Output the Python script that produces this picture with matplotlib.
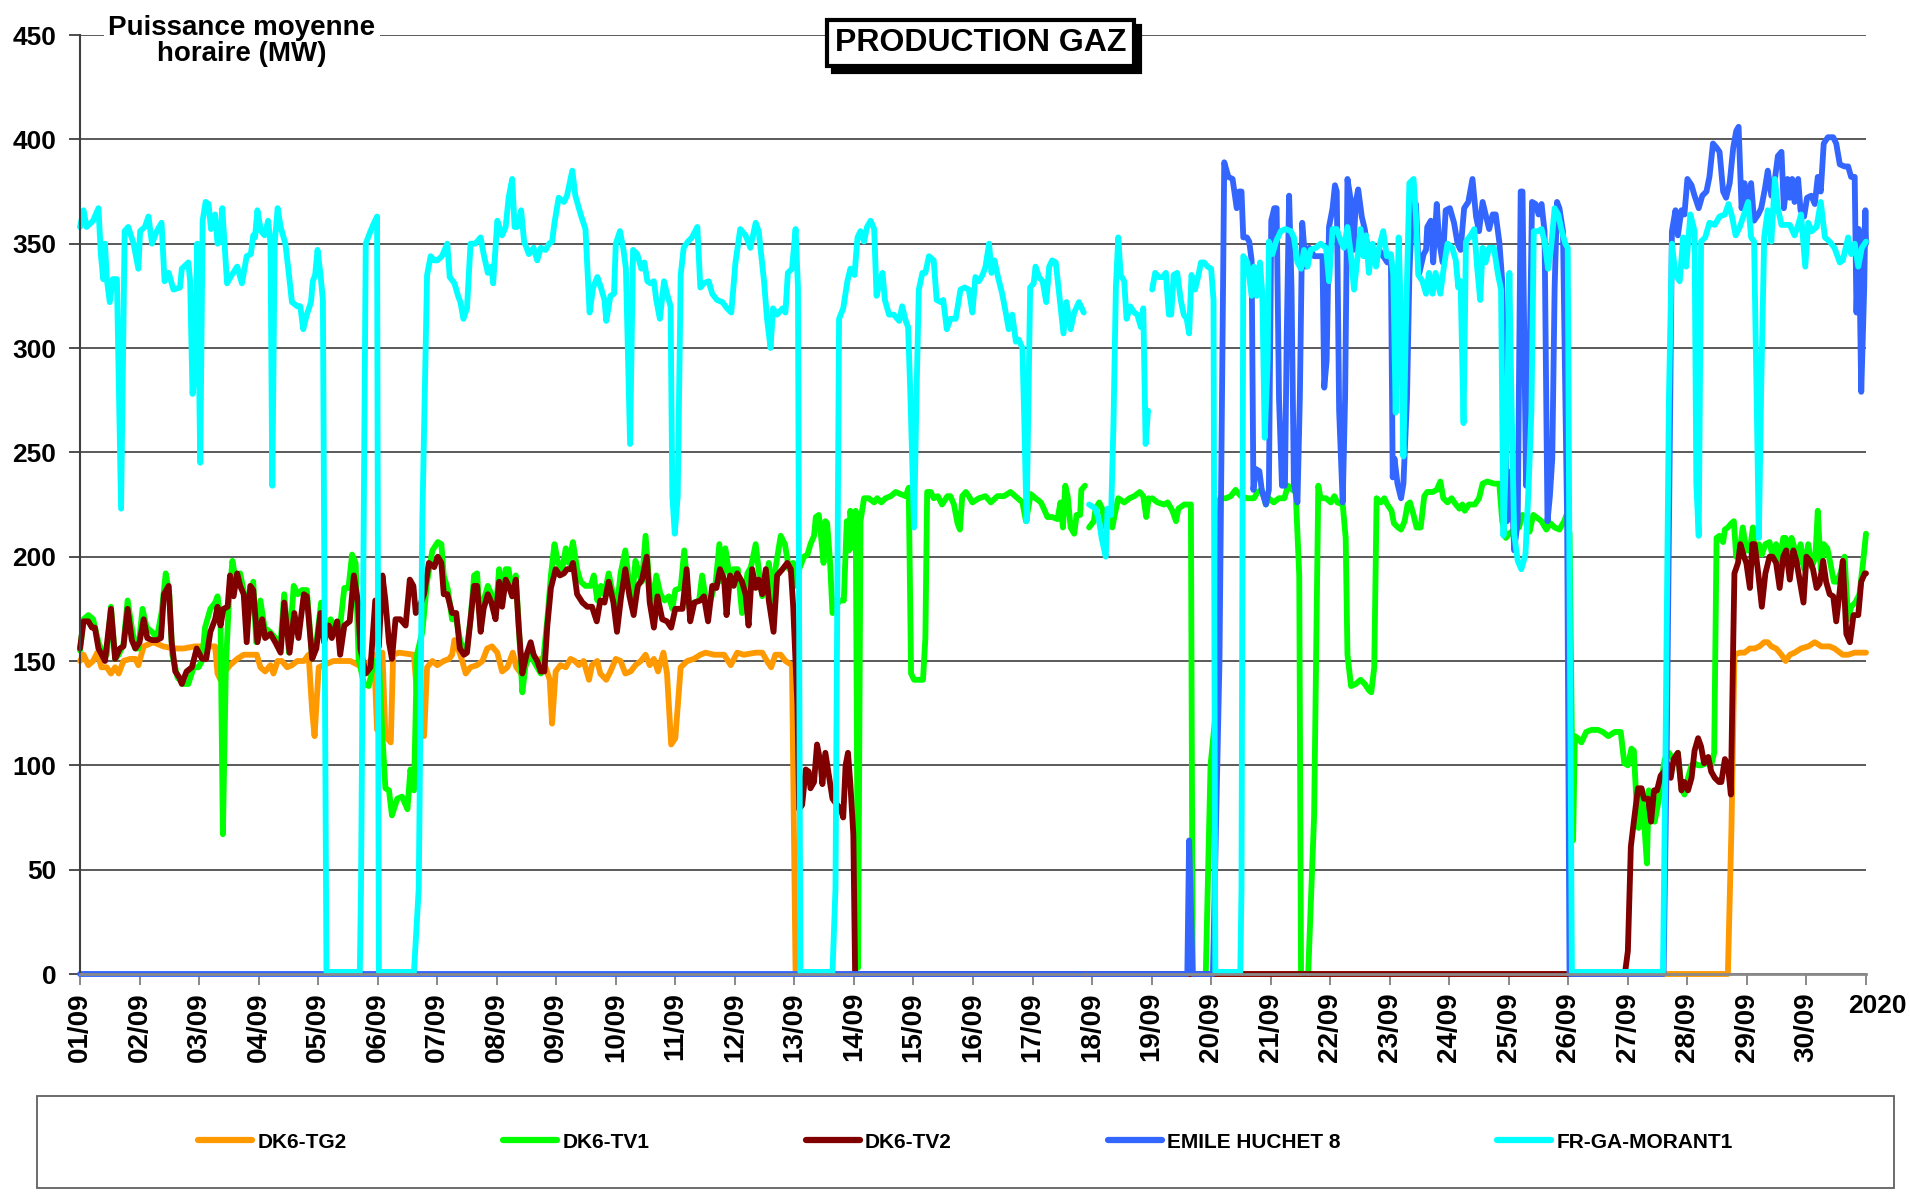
import numpy as np
import matplotlib
matplotlib.use("Agg")
import matplotlib.pyplot as plt
from matplotlib.patches import Rectangle

plt.rcParams['font.family'] = ['Liberation Sans', 'DejaVu Sans']
plt.rcParams['font.weight'] = 'bold'

# (day, MW); day 0 = 01/09 00:00, day 30 = 01/10 00:00
# None = missing data (gap in every curve)
tg2 = [
    (0.00, 150), (0.06, 153), (0.14, 148), (0.22, 150), (0.29, 154), (0.36, 147), (0.45, 147),
    (0.52, 144), (0.59, 147), (0.65, 144), (0.73, 150), (0.84, 151), (0.93, 151), (0.98, 148),
    (1.07, 157), (1.23, 159), (1.40, 157), (1.57, 156), (1.74, 156), (1.93, 157), (2.27, 157),
    (2.31, 144), (2.36, 141), (2.44, 145), (2.52, 148), (2.64, 151), (2.75, 153), (2.97, 153),
    (3.03, 147), (3.11, 145), (3.20, 148), (3.25, 144), (3.32, 150), (3.39, 150), (3.48, 147),
    (3.56, 148), (3.65, 150), (3.76, 150), (3.84, 153), (3.90, 126), (3.94, 114), (4.01, 147),
    (4.09, 148), (4.26, 150), (4.54, 150), (4.68, 148), (4.82, 148), (4.94, 153), (4.99, 117),
    (5.08, 154), (5.13, 114), (5.22, 111), (5.26, 153), (5.36, 154), (5.61, 153), (5.69, 123),
    (5.78, 114), (5.83, 147), (5.92, 150), (6.00, 148), (6.11, 150), (6.20, 151), (6.25, 153),
    (6.29, 160), (6.35, 156), (6.42, 150), (6.48, 144), (6.56, 147), (6.67, 148), (6.76, 150),
    (6.84, 156), (6.92, 157), (7.01, 154), (7.09, 145), (7.18, 147), (7.27, 154), (7.33, 147),
    (7.41, 144), (7.48, 148), (7.57, 154), (7.65, 150), (7.74, 151), (7.82, 147), (7.89, 141),
    (7.93, 120), (7.99, 145), (8.07, 148), (8.16, 147), (8.24, 151), (8.31, 150), (8.38, 148),
    (8.46, 150), (8.55, 141), (8.60, 148), (8.69, 150), (8.74, 144), (8.84, 141), (8.91, 145),
    (9.00, 151), (9.08, 150), (9.16, 144), (9.25, 145), (9.33, 148), (9.42, 150), (9.50, 153),
    (9.57, 148), (9.64, 151), (9.71, 145), (9.80, 154), (9.86, 144), (9.93, 110), (10.00, 113),
    (10.09, 147), (10.20, 150), (10.31, 151), (10.42, 153), (10.51, 154), (10.65, 153),
    (10.82, 153), (10.93, 148), (11.04, 154), (11.15, 153), (11.35, 154), (11.46, 154),
    (11.54, 150), (11.61, 147), (11.68, 153), (11.77, 153), (11.85, 150), (11.96, 148),
    (12.02, 0), (16.88, 0), (16.90, None), (16.94, 0), (17.96, 0), (17.98, None), (18.00, 0),
    (27.68, 0), (27.74, 70), (27.79, 153), (27.88, 154), (27.96, 154), (28.05, 156), (28.13, 156),
    (28.21, 157), (28.29, 159), (28.35, 159), (28.41, 157), (28.49, 156), (28.58, 153),
    (28.65, 150), (28.72, 153), (28.80, 154), (28.91, 156), (29.03, 157), (29.14, 159),
    (29.25, 157), (29.39, 157), (29.47, 156), (29.61, 153), (29.70, 153), (29.81, 154), (30.00, 154),
]

tv1 = [
    (0.00, 155), (0.06, 170), (0.14, 172), (0.22, 170), (0.31, 159), (0.39, 153), (0.45, 153),
    (0.52, 176), (0.59, 151), (0.65, 153), (0.73, 158), (0.80, 179), (0.87, 166), (0.93, 156),
    (0.98, 156), (1.05, 175), (1.12, 166), (1.21, 164), (1.29, 161), (1.37, 173), (1.44, 192),
    (1.50, 182), (1.55, 153), (1.64, 142), (1.74, 139), (1.82, 139), (1.91, 147), (1.99, 147),
    (2.05, 150), (2.10, 166), (2.19, 175), (2.27, 178), (2.31, 181), (2.36, 170), (2.40, 67),
    (2.45, 147), (2.50, 178), (2.56, 198), (2.62, 188), (2.69, 192), (2.76, 182), (2.83, 172),
    (2.91, 188), (2.96, 159), (3.03, 179), (3.10, 166), (3.19, 164), (3.28, 161), (3.37, 159),
    (3.43, 182), (3.51, 154), (3.59, 186), (3.66, 182), (3.73, 184), (3.81, 184), (3.90, 151),
    (3.98, 161), (4.05, 178), (4.12, 161), (4.21, 170), (4.29, 166), (4.37, 167), (4.44, 185),
    (4.51, 185), (4.57, 201), (4.63, 197), (4.68, 151), (4.77, 139), (4.85, 138), (4.94, 150),
    (5.02, 150), (5.08, 114), (5.13, 89), (5.19, 88), (5.24, 76), (5.33, 84), (5.41, 85),
    (5.50, 79), (5.55, 98), (5.61, 88), (5.66, 153), (5.75, 164), (5.83, 188), (5.92, 203),
    (6.01, 207), (6.07, 206), (6.11, 191), (6.18, 184), (6.25, 170), (6.32, 170), (6.39, 159),
    (6.45, 156), (6.50, 156), (6.56, 170), (6.62, 191), (6.67, 192), (6.73, 166), (6.78, 179),
    (6.85, 186), (6.91, 182), (6.98, 172), (7.04, 194), (7.09, 178), (7.15, 194), (7.20, 194),
    (7.26, 181), (7.32, 191), (7.37, 167), (7.43, 135), (7.48, 147), (7.54, 153), (7.62, 150),
    (7.68, 147), (7.74, 144), (7.79, 153), (7.85, 170), (7.91, 191), (7.97, 206), (8.03, 197),
    (8.10, 194), (8.16, 204), (8.21, 197), (8.28, 207), (8.35, 194), (8.41, 188), (8.49, 186),
    (8.58, 186), (8.63, 191), (8.69, 179), (8.75, 186), (8.81, 182), (8.88, 192), (8.96, 181),
    (9.01, 173), (9.08, 192), (9.16, 203), (9.22, 188), (9.28, 181), (9.33, 198), (9.39, 192),
    (9.44, 188), (9.50, 210), (9.56, 188), (9.61, 175), (9.68, 191), (9.75, 182), (9.82, 179),
    (9.89, 181), (9.95, 175), (10.00, 184), (10.09, 185), (10.15, 203), (10.23, 176),
    (10.31, 178), (10.40, 179), (10.45, 191), (10.52, 178), (10.59, 179), (10.68, 188),
    (10.74, 206), (10.79, 188), (10.84, 204), (10.92, 189), (10.98, 194), (11.05, 194),
    (11.12, 173), (11.21, 192), (11.27, 195), (11.35, 206), (11.40, 194), (11.46, 181),
    (11.52, 188), (11.57, 197), (11.63, 179), (11.68, 194), (11.77, 210), (11.84, 206),
    (11.91, 194), (11.98, 197), (12.02, 186), (12.08, 194), (12.16, 200), (12.22, 201),
    (12.27, 206), (12.33, 210), (12.36, 219), (12.41, 220), (12.45, 209), (12.49, 197),
    (12.52, 217), (12.55, 216), (12.60, 197), (12.64, 173), (12.69, 175), (12.75, 179),
    (12.83, 179), (12.88, 217), (12.92, 203), (12.94, 222), (13.00, 204), (13.03, 222),
    (13.07, 3), (13.11, 217), (13.17, 228), (13.25, 228), (13.34, 226), (13.39, 228),
    (13.46, 226), (13.53, 228), (13.62, 229), (13.70, 231), (13.78, 230), (13.87, 229),
    (13.92, 233), (13.96, 144), (14.01, 141), (14.09, 141), (14.16, 141), (14.20, 161),
    (14.23, 231), (14.29, 231), (14.34, 228), (14.41, 229), (14.48, 225), (14.57, 229),
    (14.62, 229), (14.68, 225), (14.74, 216), (14.78, 213), (14.82, 229), (14.88, 231),
    (14.93, 229), (14.99, 226), (15.10, 228), (15.21, 229), (15.30, 226), (15.41, 229),
    (15.52, 229), (15.63, 231), (15.75, 228), (15.83, 226), (15.89, 217), (15.97, 230),
    (16.05, 228), (16.14, 226), (16.19, 223), (16.25, 219), (16.33, 219), (16.42, 218),
    (16.47, 226), (16.51, 214), (16.55, 234), (16.59, 229), (16.64, 214), (16.70, 211),
    (16.74, 220), (16.80, 220), (16.82, 232), (16.88, 234), (16.90, None), (16.95, 214),
    (17.03, 217), (17.06, 223), (17.12, 226), (17.17, 223), (17.23, 214), (17.29, 223),
    (17.34, 214), (17.38, 220), (17.44, 228), (17.54, 226), (17.63, 228), (17.71, 229),
    (17.80, 231), (17.86, 229), (17.91, 219), (17.95, 228), (17.98, None), (18.01, 228),
    (18.10, 226), (18.21, 225), (18.27, 226), (18.35, 222), (18.41, 217), (18.45, 223),
    (18.55, 225), (18.66, 225), (18.69, 0), (18.91, 0), (18.99, 100), (19.11, 135),
    (19.15, 228), (19.25, 228), (19.33, 229), (19.41, 232), (19.50, 229), (19.61, 228),
    (19.72, 228), (19.78, 231), (19.85, 232), (19.92, 225), (19.97, 228), (20.05, 226),
    (20.14, 228), (20.23, 228), (20.29, 234), (20.37, 232), (20.42, 231), (20.48, 191),
    (20.51, 0), (20.63, 0), (20.73, 76), (20.80, 234), (20.84, 228), (20.93, 228),
    (21.01, 226), (21.07, 229), (21.12, 226), (21.21, 225), (21.26, 209), (21.29, 153),
    (21.35, 138), (21.43, 139), (21.51, 141), (21.58, 139), (21.65, 136), (21.69, 135),
    (21.74, 147), (21.78, 228), (21.85, 226), (21.91, 228), (21.96, 225), (22.03, 222),
    (22.07, 216), (22.14, 214), (22.19, 213), (22.25, 217), (22.30, 225), (22.34, 226),
    (22.40, 220), (22.45, 214), (22.52, 214), (22.58, 229), (22.63, 231), (22.72, 231),
    (22.79, 232), (22.85, 236), (22.90, 228), (22.97, 226), (23.04, 228), (23.11, 225),
    (23.17, 223), (23.22, 225), (23.26, 222), (23.33, 225), (23.43, 225), (23.50, 228),
    (23.56, 235), (23.64, 236), (23.75, 235), (23.84, 235), (23.89, 217), (23.95, 209),
    (24.01, 211), (24.09, 213), (24.17, 214), (24.23, 220), (24.30, 218), (24.35, 212),
    (24.41, 220), (24.46, 219), (24.55, 217), (24.63, 213), (24.70, 216), (24.77, 214),
    (24.85, 213), (24.93, 217), (24.97, 220), (25.02, 211), (25.08, 64), (25.11, 114),
    (25.16, 113), (25.22, 111), (25.30, 116), (25.39, 117), (25.50, 117), (25.58, 116),
    (25.67, 114), (25.78, 116), (25.88, 116), (25.94, 101), (26.00, 100), (26.06, 108),
    (26.10, 107), (26.14, 85), (26.18, 70), (26.23, 85), (26.28, 70), (26.32, 53), (26.35, 88),
    (26.39, 76), (26.45, 73), (26.51, 82), (26.56, 92), (26.62, 103), (26.69, 106),
    (26.76, 103), (26.84, 106), (26.90, 89), (26.95, 86), (27.01, 94), (27.07, 100),
    (27.12, 101), (27.18, 100), (27.23, 100), (27.32, 101), (27.40, 100), (27.45, 106),
    (27.49, 209), (27.54, 210), (27.60, 207), (27.63, 213), (27.68, 214), (27.74, 216),
    (27.78, 217), (27.82, 200), (27.88, 203), (27.93, 214), (27.99, 203), (28.05, 203),
    (28.10, 214), (28.14, 197), (28.20, 206), (28.25, 201), (28.31, 206), (28.38, 207),
    (28.43, 200), (28.49, 206), (28.55, 197), (28.61, 209), (28.65, 209), (28.69, 197),
    (28.75, 209), (28.80, 204), (28.86, 197), (28.90, 206), (28.96, 194), (29.03, 206),
    (29.09, 195), (29.15, 200), (29.19, 222), (29.24, 194), (29.29, 206), (29.35, 204),
    (29.40, 197), (29.46, 188), (29.51, 188), (29.57, 192), (29.64, 200), (29.70, 170),
    (29.75, 176), (29.82, 178), (29.89, 182), (29.95, 197), (30.00, 211),
]

tv2 = [
    (0.00, 156), (0.06, 169), (0.14, 169), (0.20, 166), (0.25, 166), (0.31, 156), (0.42, 150),
    (0.52, 175), (0.59, 151), (0.67, 156), (0.73, 157), (0.80, 175), (0.87, 160), (0.93, 156),
    (1.00, 159), (1.07, 170), (1.13, 161), (1.21, 160), (1.29, 160), (1.36, 161), (1.41, 182),
    (1.49, 186), (1.54, 159), (1.60, 145), (1.67, 142), (1.71, 139), (1.79, 145), (1.88, 147),
    (1.96, 156), (2.05, 151), (2.12, 151), (2.19, 164), (2.27, 170), (2.31, 176), (2.36, 167),
    (2.41, 175), (2.48, 176), (2.52, 191), (2.58, 181), (2.64, 192), (2.69, 186), (2.75, 182),
    (2.80, 159), (2.86, 186), (2.91, 184), (2.98, 159), (3.06, 170), (3.11, 161), (3.20, 163),
    (3.28, 159), (3.37, 154), (3.43, 178), (3.52, 154), (3.60, 173), (3.67, 161), (3.76, 182),
    (3.81, 181), (3.90, 151), (3.97, 156), (4.04, 173), (4.10, 159), (4.18, 167), (4.23, 161),
    (4.32, 169), (4.37, 153), (4.44, 167), (4.53, 169), (4.60, 191), (4.67, 178), (4.71, 156),
    (4.80, 144), (4.88, 147), (4.96, 179), (5.02, 157), (5.08, 191), (5.13, 179), (5.19, 159),
    (5.24, 151), (5.30, 170), (5.38, 170), (5.47, 167), (5.54, 189), (5.60, 186), (5.64, 173),
    (5.69, 175), (5.78, 182), (5.86, 197), (5.95, 195), (6.01, 200), (6.07, 197), (6.11, 182),
    (6.17, 182), (6.25, 173), (6.32, 173), (6.38, 156), (6.45, 153), (6.50, 154), (6.56, 170),
    (6.62, 186), (6.67, 186), (6.73, 164), (6.78, 175), (6.85, 182), (6.91, 178), (6.98, 170),
    (7.04, 188), (7.09, 176), (7.15, 189), (7.20, 186), (7.26, 181), (7.32, 189), (7.37, 166),
    (7.43, 144), (7.50, 153), (7.57, 159), (7.62, 153), (7.68, 150), (7.74, 145), (7.80, 145),
    (7.85, 167), (7.91, 185), (7.99, 194), (8.06, 191), (8.13, 192), (8.18, 194), (8.24, 194),
    (8.28, 197), (8.35, 182), (8.44, 178), (8.52, 176), (8.60, 176), (8.68, 169), (8.74, 179),
    (8.81, 178), (8.88, 188), (8.96, 178), (9.02, 164), (9.09, 181), (9.16, 194), (9.23, 181),
    (9.30, 172), (9.37, 186), (9.44, 189), (9.52, 200), (9.57, 178), (9.64, 166), (9.70, 181),
    (9.78, 170), (9.86, 169), (9.93, 166), (10.00, 175), (10.12, 175), (10.19, 194),
    (10.25, 169), (10.32, 178), (10.42, 179), (10.48, 181), (10.55, 169), (10.62, 186),
    (10.69, 185), (10.75, 194), (10.82, 189), (10.86, 172), (10.92, 191), (10.98, 186),
    (11.04, 192), (11.12, 188), (11.18, 182), (11.23, 167), (11.29, 194), (11.35, 185),
    (11.40, 189), (11.46, 182), (11.52, 194), (11.57, 179), (11.65, 164), (11.71, 191),
    (11.80, 194), (11.88, 197), (11.94, 194), (11.98, 176), (12.05, 129), (12.08, 79),
    (12.13, 81), (12.19, 98), (12.24, 97), (12.27, 89), (12.33, 92), (12.38, 110), (12.44, 101),
    (12.47, 91), (12.52, 106), (12.58, 95), (12.64, 84), (12.69, 82), (12.78, 79), (12.82, 75),
    (12.86, 100), (12.90, 106), (12.94, 91), (12.99, 67), (13.02, 0), (16.88, 0), (16.90, None),
    (16.94, 0), (17.96, 0), (17.98, None), (18.00, 0), (25.95, 0), (26.00, 11), (26.05, 61),
    (26.10, 73), (26.17, 89), (26.23, 89), (26.27, 84), (26.34, 84), (26.39, 73), (26.44, 88),
    (26.49, 88), (26.55, 95), (26.61, 97), (26.66, 101), (26.72, 94), (26.77, 103),
    (26.84, 106), (26.90, 88), (26.95, 92), (27.01, 88), (27.07, 94), (27.12, 107),
    (27.18, 113), (27.23, 109), (27.28, 101), (27.35, 104), (27.40, 97), (27.46, 94),
    (27.53, 92), (27.57, 92), (27.63, 103), (27.68, 100), (27.73, 86), (27.77, 159),
    (27.79, 192), (27.85, 197), (27.89, 206), (27.95, 200), (27.99, 197), (28.05, 185),
    (28.09, 206), (28.13, 206), (28.19, 192), (28.25, 176), (28.31, 192), (28.38, 200),
    (28.43, 200), (28.49, 197), (28.55, 185), (28.61, 200), (28.66, 203), (28.72, 189),
    (28.78, 203), (28.83, 198), (28.89, 188), (28.95, 178), (29.00, 200), (29.06, 198),
    (29.11, 194), (29.17, 185), (29.22, 187), (29.28, 198), (29.33, 188), (29.39, 182),
    (29.45, 181), (29.50, 169), (29.56, 184), (29.61, 198), (29.67, 163), (29.73, 159),
    (29.79, 172), (29.87, 172), (29.92, 188), (29.98, 192), (30.00, 192),
]

emile_huchet_8 = [
    (0.00, 0), (16.88, 0), (16.90, None), (16.94, 0), (17.96, 0), (17.98, None), (18.00, 0),
    (18.60, 0), (18.63, 64), (18.69, 0), (19.03, 0), (19.14, 150), (19.22, 389), (19.29, 382),
    (19.36, 381), (19.43, 367), (19.47, 375), (19.51, 375), (19.54, 353), (19.60, 353),
    (19.64, 351), (19.68, 342), (19.71, 232), (19.75, 242), (19.81, 241), (19.85, 232),
    (19.92, 225), (19.97, 232), (20.01, 361), (20.06, 367), (20.10, 367), (20.14, 276),
    (20.19, 234), (20.24, 234), (20.27, 306), (20.31, 373), (20.35, 329), (20.39, 235),
    (20.45, 226), (20.49, 276), (20.53, 360), (20.59, 339), (20.65, 348), (20.73, 344),
    (20.81, 344), (20.87, 344), (20.90, 281), (20.94, 294), (20.98, 358), (21.04, 367),
    (21.08, 378), (21.11, 375), (21.15, 270), (21.21, 226), (21.25, 276), (21.29, 381),
    (21.35, 370), (21.39, 347), (21.43, 370), (21.47, 376), (21.53, 363), (21.58, 357),
    (21.65, 344), (21.71, 342), (21.77, 341), (21.82, 347), (21.89, 344), (21.96, 341),
    (22.02, 341), (22.05, 238), (22.08, 247), (22.13, 235), (22.19, 228), (22.23, 235),
    (22.29, 276), (22.33, 335), (22.38, 370), (22.44, 369), (22.49, 335), (22.57, 345),
    (22.61, 347), (22.63, 358), (22.69, 361), (22.73, 341), (22.79, 369), (22.83, 351),
    (22.89, 341), (22.94, 366), (23.01, 367), (23.08, 360), (23.14, 350), (23.19, 347),
    (23.25, 367), (23.32, 370), (23.39, 381), (23.45, 363), (23.50, 356), (23.56, 370),
    (23.61, 364), (23.67, 357), (23.73, 364), (23.78, 364), (23.84, 351), (23.89, 332),
    (23.93, 276), (23.97, 217), (24.01, 229), (24.04, 241), (24.09, 203), (24.15, 217),
    (24.20, 375), (24.23, 375), (24.29, 234), (24.34, 276), (24.39, 370), (24.45, 369),
    (24.50, 364), (24.55, 369), (24.60, 356), (24.65, 217), (24.69, 229), (24.73, 247),
    (24.77, 329), (24.81, 370), (24.85, 367), (24.91, 356), (24.95, 276), (24.98, 217),
    (25.02, 0), (26.60, 0), (26.65, 100), (26.74, 356), (26.80, 366), (26.84, 354),
    (26.90, 366), (26.95, 364), (27.00, 381), (27.07, 378), (27.12, 373), (27.19, 367),
    (27.25, 373), (27.32, 375), (27.37, 382), (27.43, 398), (27.49, 396), (27.54, 394),
    (27.60, 375), (27.65, 372), (27.71, 379), (27.77, 396), (27.82, 404), (27.86, 406),
    (27.91, 367), (27.96, 379), (28.02, 369), (28.07, 379), (28.12, 361), (28.19, 364),
    (28.24, 367), (28.30, 376), (28.35, 385), (28.41, 373), (28.47, 381), (28.52, 392),
    (28.58, 394), (28.62, 367), (28.68, 381), (28.72, 372), (28.76, 381), (28.80, 370),
    (28.86, 381), (28.90, 366), (28.96, 363), (29.01, 372), (29.08, 373), (29.14, 369),
    (29.19, 382), (29.24, 375), (29.29, 398), (29.36, 401), (29.45, 401), (29.50, 398),
    (29.56, 388), (29.64, 387), (29.70, 387), (29.75, 382), (29.81, 382), (29.84, 317),
    (29.88, 357), (29.92, 279), (29.97, 329), (29.99, 366), (30.00, 350),
]

fr_ga_morant1 = [
    (0.00, 358), (0.06, 366), (0.11, 358), (0.22, 361), (0.31, 367), (0.35, 345), (0.39, 333),
    (0.42, 350), (0.45, 333), (0.50, 322), (0.55, 333), (0.62, 333), (0.69, 223), (0.75, 356),
    (0.81, 358), (0.90, 350), (0.98, 338), (1.01, 356), (1.09, 358), (1.15, 363), (1.21, 350),
    (1.29, 356), (1.37, 360), (1.42, 332), (1.49, 336), (1.57, 328), (1.68, 329), (1.71, 338),
    (1.82, 341), (1.85, 332), (1.89, 278), (1.93, 288), (1.97, 350), (2.02, 245), (2.06, 361),
    (2.11, 370), (2.16, 369), (2.20, 357), (2.27, 364), (2.31, 350), (2.36, 351), (2.39, 367),
    (2.47, 331), (2.55, 335), (2.64, 339), (2.72, 331), (2.80, 344), (2.87, 345), (2.91, 354),
    (2.94, 353), (2.98, 366), (3.04, 356), (3.10, 354), (3.16, 361), (3.20, 350), (3.23, 234),
    (3.27, 350), (3.32, 367), (3.37, 358), (3.45, 350), (3.51, 335), (3.56, 322), (3.65, 320),
    (3.70, 320), (3.75, 309), (3.81, 316), (3.88, 322), (3.91, 332), (3.95, 335), (3.99, 347),
    (4.04, 335), (4.08, 323), (4.14, 1), (4.70, 1), (4.72, 41), (4.80, 350), (4.88, 356),
    (4.94, 360), (4.99, 363), (5.02, 1), (5.61, 1), (5.69, 41), (5.75, 217), (5.83, 335),
    (5.89, 344), (5.95, 342), (6.00, 342), (6.08, 344), (6.17, 350), (6.21, 334), (6.29, 331),
    (6.35, 325), (6.39, 322), (6.44, 314), (6.50, 319), (6.56, 350), (6.64, 350), (6.73, 353),
    (6.78, 345), (6.85, 336), (6.91, 339), (6.94, 331), (7.01, 361), (7.09, 354), (7.15, 358),
    (7.20, 372), (7.26, 381), (7.30, 358), (7.34, 358), (7.41, 366), (7.46, 351), (7.54, 345),
    (7.62, 348), (7.68, 342), (7.74, 348), (7.82, 347), (7.88, 350), (7.93, 351), (7.97, 360),
    (8.04, 372), (8.13, 370), (8.18, 373), (8.27, 385), (8.32, 373), (8.41, 364), (8.49, 357),
    (8.56, 317), (8.62, 329), (8.69, 334), (8.75, 329), (8.81, 323), (8.84, 313), (8.91, 325),
    (8.97, 326), (9.00, 350), (9.07, 356), (9.13, 347), (9.17, 338), (9.24, 254), (9.29, 347),
    (9.36, 345), (9.43, 338), (9.48, 341), (9.53, 332), (9.58, 331), (9.64, 332), (9.68, 323),
    (9.74, 314), (9.81, 332), (9.86, 326), (9.92, 320), (9.95, 229), (9.99, 211), (10.04, 229),
    (10.09, 335), (10.14, 348), (10.21, 351), (10.28, 353), (10.37, 358), (10.42, 329),
    (10.48, 331), (10.56, 332), (10.62, 326), (10.70, 323), (10.79, 322), (10.87, 319),
    (10.94, 317), (11.01, 341), (11.09, 357), (11.18, 354), (11.26, 348), (11.35, 360),
    (11.40, 356), (11.49, 332), (11.54, 314), (11.60, 300), (11.64, 319), (11.71, 316),
    (11.80, 319), (11.85, 317), (11.89, 336), (11.96, 338), (12.02, 357), (12.06, 329),
    (12.10, 1), (12.64, 1), (12.69, 41), (12.75, 314), (12.82, 319), (12.89, 332), (12.94, 338),
    (13.01, 335), (13.06, 353), (13.11, 356), (13.17, 351), (13.22, 358), (13.28, 361),
    (13.34, 357), (13.38, 325), (13.44, 332), (13.48, 336), (13.52, 323), (13.59, 316),
    (13.67, 316), (13.76, 313), (13.81, 320), (13.87, 313), (13.91, 310), (13.95, 276),
    (14.01, 214), (14.05, 276), (14.09, 328), (14.15, 336), (14.20, 336), (14.26, 344),
    (14.34, 342), (14.39, 323), (14.46, 322), (14.50, 323), (14.56, 309), (14.62, 314),
    (14.71, 314), (14.79, 328), (14.86, 329), (14.93, 328), (14.99, 317), (15.04, 334),
    (15.10, 332), (15.16, 335), (15.21, 339), (15.27, 350), (15.31, 336), (15.36, 342),
    (15.42, 334), (15.49, 326), (15.55, 317), (15.60, 309), (15.66, 316), (15.72, 303),
    (15.77, 304), (15.83, 300), (15.86, 267), (15.90, 217), (15.96, 329), (16.02, 331),
    (16.05, 339), (16.11, 334), (16.17, 332), (16.23, 322), (16.28, 339), (16.33, 342),
    (16.39, 341), (16.44, 328), (16.52, 307), (16.57, 322), (16.64, 309), (16.70, 317),
    (16.78, 322), (16.86, 317), (16.90, None), (16.95, 225), (17.06, 223), (17.12, 217),
    (17.16, 209), (17.23, 200), (17.26, 223), (17.32, 220), (17.36, 264), (17.40, 329),
    (17.44, 353), (17.48, 335), (17.54, 332), (17.58, 314), (17.64, 320), (17.71, 317),
    (17.76, 316), (17.82, 310), (17.86, 319), (17.90, 254), (17.94, 270), (17.98, None),
    (18.01, 328), (18.06, 336), (18.12, 334), (18.18, 334), (18.24, 336), (18.29, 316),
    (18.33, 316), (18.37, 335), (18.43, 336), (18.49, 323), (18.54, 316), (18.59, 314),
    (18.63, 307), (18.67, 335), (18.73, 328), (18.78, 334), (18.83, 341), (18.88, 341),
    (18.94, 339), (19.00, 338), (19.04, 323), (19.07, 1), (19.49, 1), (19.51, 41),
    (19.54, 344), (19.61, 341), (19.68, 325), (19.72, 339), (19.77, 325), (19.82, 341),
    (19.86, 326), (19.90, 257), (19.95, 294), (19.97, 351), (20.03, 345), (20.09, 351),
    (20.17, 356), (20.25, 357), (20.34, 356), (20.39, 353), (20.45, 341), (20.51, 338),
    (20.56, 347), (20.62, 339), (20.67, 347), (20.76, 348), (20.84, 350), (20.93, 348),
    (20.98, 332), (21.04, 357), (21.11, 357), (21.18, 351), (21.23, 348), (21.29, 358),
    (21.35, 344), (21.40, 328), (21.46, 344), (21.51, 357), (21.56, 344), (21.60, 354),
    (21.65, 336), (21.71, 350), (21.77, 339), (21.82, 348), (21.89, 356), (21.95, 344),
    (22.02, 345), (22.06, 335), (22.10, 269), (22.15, 353), (22.19, 313), (22.23, 248),
    (22.27, 309), (22.33, 379), (22.40, 381), (22.44, 363), (22.48, 335), (22.55, 332),
    (22.61, 326), (22.66, 336), (22.72, 326), (22.77, 336), (22.85, 326), (22.91, 339),
    (22.97, 350), (23.05, 348), (23.11, 342), (23.15, 329), (23.19, 332), (23.24, 264),
    (23.28, 351), (23.36, 354), (23.42, 357), (23.47, 338), (23.52, 323), (23.56, 348),
    (23.61, 341), (23.67, 348), (23.75, 348), (23.82, 335), (23.87, 328), (23.91, 210),
    (23.97, 264), (24.01, 336), (24.04, 282), (24.09, 211), (24.15, 198), (24.21, 194),
    (24.28, 201), (24.33, 232), (24.38, 270), (24.42, 356), (24.49, 356), (24.55, 357),
    (24.60, 351), (24.66, 338), (24.71, 348), (24.77, 367), (24.83, 364), (24.89, 356),
    (24.95, 350), (24.99, 348), (25.02, 188), (25.06, 1), (26.59, 1), (26.63, 100),
    (26.69, 276), (26.74, 350), (26.80, 335), (26.87, 332), (26.93, 353), (26.98, 339),
    (27.05, 364), (27.12, 356), (27.15, 235), (27.19, 210), (27.23, 351), (27.30, 353),
    (27.37, 360), (27.46, 359), (27.54, 363), (27.63, 364), (27.69, 369), (27.75, 363),
    (27.81, 354), (27.88, 358), (27.95, 364), (28.02, 370), (28.07, 353), (28.12, 351),
    (28.16, 282), (28.20, 209), (28.24, 282), (28.29, 353), (28.35, 366), (28.41, 351),
    (28.47, 381), (28.52, 367), (28.58, 359), (28.65, 359), (28.72, 359), (28.80, 354),
    (28.86, 359), (28.91, 364), (28.98, 339), (29.03, 360), (29.09, 356), (29.17, 358),
    (29.24, 370), (29.31, 353), (29.39, 351), (29.47, 348), (29.56, 341), (29.61, 342),
    (29.70, 353), (29.75, 345), (29.81, 350), (29.87, 339), (29.93, 348), (30.00, 351),
]

series_names = ['DK6-TG2', 'DK6-TV1', 'DK6-TV2', 'EMILE HUCHET 8', 'FR-GA-MORANT1']
series_data = [tg2, tv1, tv2, emile_huchet_8, fr_ga_morant1]
series_colors = ['#FF9900', '#00FF00', '#800000', '#3366FF', '#00FFFF']

day_labels = ['%02d/09' % d for d in range(1, 31)]
year_label = '2020'
y_ticks = list(range(0, 451, 50))


def to_arrays(points):
    t = np.array([p[0] for p in points], dtype=float)
    v = np.array([np.nan if p[1] is None else p[1] for p in points], dtype=float)
    return t, v


W, H = 1910, 1192
fig = plt.figure(figsize=(W / 100, H / 100), dpi=100)
ax = fig.add_axes([80 / W, 1 - 974 / H, (1866 - 80) / W, (974 - 35) / H])

for name, pts, color in zip(series_names, series_data, series_colors):
    t, v = to_arrays(pts)
    ax.plot(t, v, color=color, lw=4.2, label=name, clip_on=False,
            solid_joinstyle='round', solid_capstyle='round')

ax.set_xlim(0, 30)
ax.set_ylim(0, 450)
ax.set_axisbelow(True)
ax.yaxis.grid(True, color='#5a5a5a', lw=1.4)

ax.set_yticks(y_ticks)
ax.set_yticklabels([str(v) for v in y_ticks], fontsize=19, fontweight='bold')
ax.set_xticks(range(31))
ax.set_xticklabels(day_labels + [''], fontsize=20, fontweight='bold', rotation=90)
# year written flat under the last tick, a bit to the right
ax.annotate(year_label, xy=(30, 0), xycoords=('data', 'axes fraction'),
            xytext=(11, -20), textcoords='offset pixels', ha='center', va='top',
            fontsize=19, fontweight='bold', annotation_clip=False)

ax.tick_params(axis='x', length=8, width=1.3, color='#808080', pad=5)
ax.tick_params(axis='y', length=8, width=1.3, color='#404040', pad=9)
for side in ['top', 'right']:
    ax.spines[side].set_visible(False)
ax.spines['left'].set_color('#404040')
ax.spines['left'].set_linewidth(1.5)
ax.spines['bottom'].set_color('#8a8a8a')
ax.spines['bottom'].set_linewidth(2)

# y axis caption sitting on the top gridline
fig.text(242 / W, 1 - 41 / H, 'Puissance moyenne\nhoraire (MW)', ha='center', va='center',
         fontsize=20, fontweight='bold', linespacing=1.0, multialignment='center',
         bbox=dict(facecolor='white', edgecolor='none', pad=3))

# title box with drop shadow (pixel box from the reference)
bx0, by0, bx1, by1 = 827, 20, 1134, 66
fig.add_artist(Rectangle(((bx0 + 6) / W, 1 - (by1 + 6) / H), (bx1 - bx0) / W, (by1 - by0) / H,
                         transform=fig.transFigure, facecolor='black', edgecolor='black',
                         lw=3, zorder=4))
fig.add_artist(Rectangle((bx0 / W, 1 - by1 / H), (bx1 - bx0) / W, (by1 - by0) / H,
                         transform=fig.transFigure, facecolor='white', edgecolor='black',
                         lw=3, zorder=5))
fig.text((bx0 + bx1) / 2 / W, 1 - (by0 + by1) / 2 / H, 'PRODUCTION GAZ', ha='center',
         va='center', fontsize=23, fontweight='bold', color='black', zorder=6)

# legend frame at the bottom
fig.add_artist(Rectangle((37 / W, 1 - 1188 / H), (1894 - 37) / W, (1188 - 1096) / H,
                         transform=fig.transFigure, fill=False, edgecolor='#606060', lw=1.3))
handles, labels = ax.get_legend_handles_labels()
leg = fig.legend(handles, labels, loc='center', bbox_to_anchor=((37 + 1894) / 2 / W, 1 - 1142 / H),
                 ncol=5, frameon=False, prop={'size': 15, 'weight': 'bold'},
                 handlelength=2.6, handletextpad=0.25, columnspacing=7.5)
for line in leg.get_lines():
    line.set_linewidth(4.5)

fig.savefig('out.png', dpi=100)
